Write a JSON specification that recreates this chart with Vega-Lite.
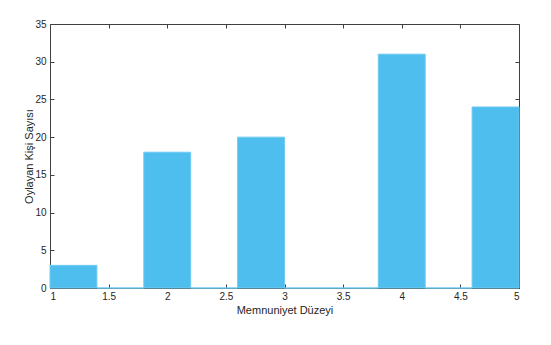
{
  "$schema": "https://vega.github.io/schema/vega-lite/v6.json",
  "width": 469,
  "height": 264,
  "autosize": "none",
  "padding": {"left": 50, "top": 24, "right": 32, "bottom": 57},
  "background": "white",
  "config": {
    "view": {"stroke": "#404040", "strokeWidth": 1},
    "axis": {
      "grid": false,
      "domainColor": "#404040",
      "tickColor": "#404040",
      "labelColor": "#262626",
      "titleColor": "#262626",
      "labelFont": "Liberation Sans",
      "titleFont": "Liberation Sans",
      "labelFontSize": 10,
      "titleFontSize": 11,
      "titleFontWeight": "normal",
      "tickSize": -4
    }
  },
  "data": {
    "values": [
      {"start": 1.0, "end": 1.4, "count": 3},
      {"start": 1.4, "end": 1.8, "count": 0},
      {"start": 1.8, "end": 2.2, "count": 18},
      {"start": 2.2, "end": 2.6, "count": 0},
      {"start": 2.6, "end": 3.0, "count": 20},
      {"start": 3.0, "end": 3.4, "count": 0},
      {"start": 3.4, "end": 3.8, "count": 0},
      {"start": 3.8, "end": 4.2, "count": 31},
      {"start": 4.2, "end": 4.6, "count": 0},
      {"start": 4.6, "end": 5.0, "count": 24}
    ]
  },
  "layer": [
    {
      "mark": {"type": "bar", "fill": "#4DBEEE", "stroke": "#6FCBF2", "strokeWidth": 1},
      "encoding": {
        "x": {
          "field": "start", "type": "quantitative",
          "scale": {"domain": [1, 5], "nice": false, "zero": false},
          "axis": {"values": [1, 1.5, 2, 2.5, 3, 3.5, 4, 4.5, 5], "format": "~g", "title": "Memnuniyet Düzeyi", "labelPadding": 7, "titlePadding": 3}
        },
        "x2": {"field": "end"},
        "y": {
          "field": "count", "type": "quantitative",
          "scale": {"domain": [0, 35], "nice": false},
          "axis": {"values": [0, 5, 10, 15, 20, 25, 30, 35], "title": "Oylayan Kişi Sayısı", "labelPadding": 8, "titlePadding": 0}
        },
        "y2": {"datum": 0}
      }
    },
    {
      "mark": {"type": "bar", "opacity": 0},
      "encoding": {
        "x": {
          "field": "start", "type": "quantitative",
          "scale": {"domain": [1, 5], "nice": false, "zero": false},
          "axis": {"orient": "top", "values": [1, 1.5, 2, 2.5, 3, 3.5, 4, 4.5, 5], "labels": false, "title": null, "domain": false}
        },
        "x2": {"field": "end"},
        "y": {
          "field": "count", "type": "quantitative",
          "scale": {"domain": [0, 35], "nice": false},
          "axis": {"orient": "right", "values": [0, 5, 10, 15, 20, 25, 30, 35], "labels": false, "title": null, "domain": false}
        },
        "y2": {"datum": 0}
      }
    }
  ],
  "resolve": {"axis": {"x": "independent", "y": "independent"}}
}
